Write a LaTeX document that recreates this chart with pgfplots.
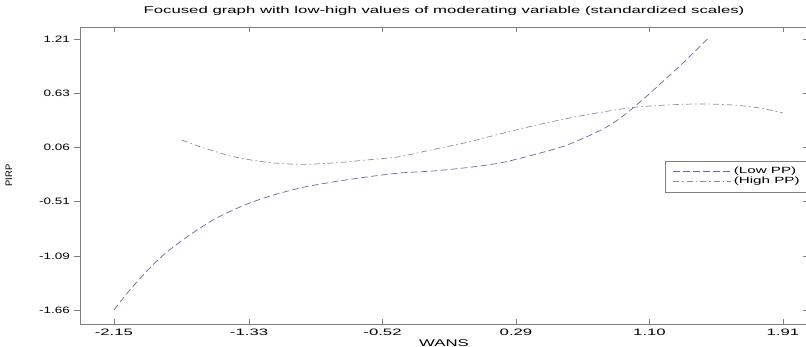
\documentclass[border=0pt]{standalone}
\usepackage{fontspec}
\setmainfont{Liberation Sans}
\newfontfamily\titlefont[FakeStretch=1.71]{Liberation Sans}
\newfontfamily\xtickfont[FakeStretch=1.8]{Liberation Sans}
\newfontfamily\ytickfont[FakeStretch=1.45]{Liberation Sans}
\newfontfamily\legfont[FakeStretch=1.69]{Liberation Sans}
\usepackage{pgfplots}
\pgfplotsset{compat=1.18}
\definecolor{lowc}{RGB}{105,105,160}
\definecolor{highc}{RGB}{140,140,165}
\definecolor{axc}{RGB}{128,128,128}
\begin{document}
\begin{tikzpicture}
\begin{axis}[
  name=main,
  at={(80pt,23pt)}, anchor=south west,
  scale only axis, width=728pt, height=297pt,
  xmin=-2.356, xmax=2.062, ymin=-1.808, ymax=1.337,
  axis line style={draw=axc, line width=0.6pt},
  tick style={draw=axc, line width=0.6pt},
  tick align=inside, major tick length=5pt,
  xtick={-2.15,-1.33,-0.52,0.29,1.10,1.91},
  xticklabels={-2.15,-1.33,-0.52,0.29,1.10,1.91},
  xtick pos=both,
  xticklabel style={font=\xtickfont\fontsize{9.3}{10}\selectfont, inner sep=0pt, yshift=-5pt, anchor=north},
  ytick={-1.66,-1.09,-0.51,0.06,0.63,1.21},
  yticklabels={},
  ytick pos=right,
  title={Focused graph with low-high values of moderating variable (standardized scales)},
  title style={font=\titlefont\fontsize{9.8}{10}\selectfont, at={(axis description cs:0.5,1.0269)}, anchor=base, inner sep=0pt},
  xlabel={WANS},
  xlabel style={font=\titlefont\fontsize{9.8}{10}\selectfont, at={(axis description cs:0.5,-0.0741)}, anchor=base, inner sep=0pt},
  ylabel={PIRP},
  ylabel style={font=\fontsize{9.4}{10}\selectfont, at={(axis description cs:-0.0975,0.5)}, anchor=center, inner sep=0pt},
  legend style={at={(1,0.497)}, anchor=east, draw=axc, fill=white, line width=0.6pt,
    font=\legfont\fontsize{9}{10}\selectfont, inner xsep=8pt, inner ysep=5.5pt,
    row sep=1pt, column sep=2pt,
    nodes={inner sep=0pt, text height=7pt, text depth=2.5pt}},
  legend cell align=left,
  legend image code/.code={\draw[#1, line width=0.7pt] (0pt,0pt) -- (58pt,0pt);},
]
\addplot[lowc, line width=0.7pt, smooth, dash pattern=on 6.5pt off 3.5pt] coordinates {
(-2.150,-1.660) (-2.035,-1.410) (-1.871,-1.109) (-1.707,-0.887) (-1.549,-0.707)
(-1.385,-0.569) (-1.221,-0.463) (-1.021,-0.368) (-0.821,-0.304) (-0.615,-0.251)
(-0.414,-0.209) (-0.214,-0.188) (-0.008,-0.152) (0.193,-0.103) (0.393,-0.018)
(0.599,0.087) (0.799,0.240) (0.903,0.348) (1.000,0.480) (1.103,0.635)
(1.206,0.800) (1.303,0.955) (1.455,1.215)
};
\addlegendentry{(Low PP)}
\addplot[highc, line width=0.7pt, smooth, dash pattern=on 6pt off 3pt on 1.5pt off 3pt] coordinates {
(-1.737,0.140) (-1.628,0.070) (-1.428,-0.035) (-1.221,-0.095) (-1.021,-0.118)
(-0.821,-0.103) (-0.615,-0.071) (-0.414,-0.035) (-0.214,0.040) (-0.008,0.115)
(0.193,0.205) (0.393,0.290) (0.599,0.368) (0.799,0.432) (1.000,0.485)
(1.206,0.511) (1.406,0.522) (1.607,0.511) (1.771,0.479) (1.910,0.426)
};
\addlegendentry{(High PP)}
\end{axis}
\begin{axis}[
  at={(80pt,23pt)}, anchor=south west,
  scale only axis, width=728pt, height=297pt,
  xmin=-2.356, xmax=2.062, ymin=-1.808, ymax=1.337,
  hide x axis, axis y line*=left,
  axis line style={draw=axc, line width=0.6pt, -},
  tick style={draw=axc, line width=0.6pt},
  tick align=outside, major tick length=6pt,
  ytick={-1.66,-1.09,-0.51,0.06,0.63,1.21},
  yticklabels={-1.66,-1.09,-0.51,0.06,0.63,1.21},
  yticklabel style={font=\ytickfont\fontsize{9.3}{10}\selectfont, inner sep=0pt, xshift=-4pt, anchor=east},
]
\end{axis}
\pgfresetboundingbox
\useasboundingbox (0,0) rectangle (806pt,347pt);
\end{tikzpicture}
\end{document}
